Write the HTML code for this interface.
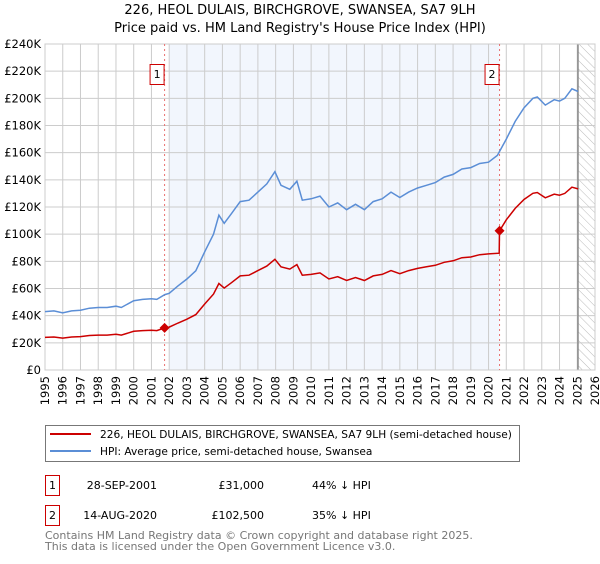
<!DOCTYPE html>
<html><head><meta charset="utf-8"><style>
body{margin:0;background:#fff;font-family:"DejaVu Sans","Liberation Sans",sans-serif;}
svg text{font-family:"DejaVu Sans","Liberation Sans",sans-serif;}
</style></head><body>
<svg id="chart" width="600" height="560" viewBox="0 0 600 560" xmlns="http://www.w3.org/2000/svg">
<defs><pattern id="hatch" width="6" height="6" patternUnits="userSpaceOnUse" patternTransform="rotate(-45)"><line x1="0" y1="0" x2="0" y2="6" stroke="#bbb" stroke-width="1"/></pattern></defs>
<text x="300" y="14" text-anchor="middle" font-size="13" fill="#000">226, HEOL DULAIS, BIRCHGROVE, SWANSEA, SA7 9LH</text>
<text x="300" y="32" text-anchor="middle" font-size="13" fill="#000">Price paid vs. HM Land Registry's House Price Index (HPI)</text>
<g id="bg"></g><g id="grid"></g><g id="series"></g><g id="axes"></g>
<rect x="45.5" y="425.5" width="474" height="36" fill="#fff" stroke="#777"/>
<line x1="50" y1="434" x2="91" y2="434" stroke="#cc0000" stroke-width="2"/>
<text x="100" y="438" font-size="10.6">226, HEOL DULAIS, BIRCHGROVE, SWANSEA, SA7 9LH (semi-detached house)</text>
<line x1="50" y1="451" x2="91" y2="451" stroke="#5b8ed6" stroke-width="2"/>
<text x="100" y="455" font-size="10.6">HPI: Average price, semi-detached house, Swansea</text>
<rect x="45.5" y="475.5" width="14" height="20" fill="#fff" stroke="#cc0000"/>
<text x="52.5" y="489" text-anchor="middle" font-size="11">1</text>
<text x="157" y="489" text-anchor="end" font-size="11">28-SEP-2001</text>
<text x="264" y="489" text-anchor="end" font-size="11">£31,000</text>
<text x="312" y="489" font-size="11">44% ↓ HPI</text>
<rect x="45.5" y="505.5" width="14" height="20" fill="#fff" stroke="#cc0000"/>
<text x="52.5" y="519" text-anchor="middle" font-size="11">2</text>
<text x="157" y="519" text-anchor="end" font-size="11">14-AUG-2020</text>
<text x="264" y="519" text-anchor="end" font-size="11">£102,500</text>
<text x="312" y="519" font-size="11">35% ↓ HPI</text>
<text x="45" y="539" font-size="11" fill="#777">Contains HM Land Registry data © Crown copyright and database right 2025.</text>
<text x="45" y="550" font-size="11" fill="#777">This data is licensed under the Open Government Licence v3.0.</text>
</svg>
<script>
const hpiYears=[1995,1995.5,1996,1996.5,1997,1997.5,1998,1998.5,1999,1999.3,2000,2000.5,2001,2001.3,2001.75,2002,2002.5,2003,2003.5,2004,2004.5,2004.8,2005.1,2005.5,2006,2006.5,2007,2007.5,2007.96,2008.3,2008.8,2009.2,2009.5,2010,2010.5,2011,2011.5,2012,2012.5,2013,2013.5,2014,2014.5,2015,2015.5,2016,2016.5,2017,2017.5,2018,2018.5,2019,2019.5,2020,2020.5,2021,2021.5,2022,2022.5,2022.75,2023.2,2023.7,2024,2024.3,2024.7,2025.05];
const hpiValues=[43,43.5,42,43.5,44,45.5,46,46,47,46,51,52,52.5,52,55.5,56.5,62,67,73,87,100,114,108,115,124,125,131,137,146,136,133,139,125,126,128,120,123,118,122,118,124,126,131,127,131,134,136,138,142,144,148,149,152,153,158,170,183,193,200,201,195,199,198,200,207,205];
const propYears=[1995,1995.5,1996,1996.5,1997,1997.5,1998,1998.5,1999,1999.3,2000,2000.5,2001,2001.3,2001.75,2002,2002.5,2003,2003.5,2004,2004.5,2004.8,2005.1,2005.5,2006,2006.5,2007,2007.5,2007.96,2008.3,2008.8,2009.2,2009.5,2010,2010.5,2011,2011.5,2012,2012.5,2013,2013.5,2014,2014.5,2015,2015.5,2016,2016.5,2017,2017.5,2018,2018.5,2019,2019.5,2020,2020.6,2020.62,2021,2021.5,2022,2022.5,2022.75,2023.2,2023.7,2024,2024.3,2024.7,2025.05];
const propValues=[24,24.3,23.5,24.3,24.6,25.4,25.7,25.7,26.3,25.7,28.5,29,29.3,29,31,31.6,34.6,37.4,40.8,48.6,55.9,63.7,60.3,64.2,69.3,69.8,73.2,76.5,81.5,76,74.3,77.6,69.8,70.4,71.5,67,68.7,65.9,68.1,65.9,69.3,70.4,73.2,70.9,73.2,74.8,76,77.1,79.3,80.4,82.7,83.2,84.9,85.5,86,102.5,110.6,119,125.5,130.1,130.7,126.8,129.4,128.7,130,134.6,133.3];
const saleYears=[2001.74,2020.62];
const saleValues=[31,102.5];
const saleLabels=["1","2"];
const yTicks=[0,20,40,60,80,100,120,140,160,180,200,220,240];
const xTicks=[1995,1996,1997,1998,1999,2000,2001,2002,2003,2004,2005,2006,2007,2008,2009,2010,2011,2012,2013,2014,2015,2016,2017,2018,2019,2020,2021,2022,2023,2024,2025,2026];
const X0=45,X1=595,Y0=370,Y1=44;
const xs=y=>X0+(y-1995)/(2026-1995)*(X1-X0);
const ys=v=>Y0-v/240*(Y0-Y1);
const NS="http://www.w3.org/2000/svg";
function mk(tag,attrs,parent){const e=document.createElementNS(NS,tag);for(const k in attrs)e.setAttribute(k,attrs[k]);parent.appendChild(e);return e;}
const bg=document.getElementById('bg'),grid=document.getElementById('grid'),ser=document.getElementById('series'),ax=document.getElementById('axes');
let r=mk('rect',{x:xs(2002),y:Y1,width:xs(saleYears[1])-xs(2002),height:Y0-Y1,fill:'#f2f6fd'},bg);


r=mk('rect',{x:xs(2025.04),y:Y1,width:X1-xs(2025.04),height:Y0-Y1,fill:'url(#hatch)'},bg);


yTicks.forEach(t=>{
 const l=mk('line',{x1:X0,x2:X1,y1:ys(t),y2:ys(t),stroke:'#ccc','stroke-width':1},grid);
 
 
 const tx=mk('text',{x:X0-4,y:ys(t)+4,'text-anchor':'end','font-size':'11.5'},ax);
 tx.textContent=t===0?'£0':'£'+t+'K';
 
 
});
xTicks.forEach(t=>{
 const l=mk('line',{y1:Y1,y2:Y0,x1:xs(t),x2:xs(t),stroke:'#ccc','stroke-width':1},grid);
 
 
 const tx=mk('text',{x:0,y:0,'text-anchor':'end','font-size':'11.5',transform:`translate(${xs(t)+4},${Y0+6}) rotate(-90)`},ax);
 tx.textContent=t;
 
 
});
let fl=mk('line',{x1:xs(2025.04),x2:xs(2025.04),y1:Y1,y2:Y0,stroke:'#888','stroke-width':1.5},grid);


let bx=mk('rect',{x:X0,y:Y1,width:X1-X0,height:Y0-Y1,fill:'none',stroke:'#ccc'},grid);


saleYears.forEach((s,i)=>{
 const l=mk('line',{x1:xs(s),x2:xs(s),y1:Y1,y2:Y0,stroke:'#e87070','stroke-dasharray':'2,3','stroke-width':1},ser);
 
 
 const b=mk('rect',{x:xs(s)-14.5,y:64.5,width:14,height:20,fill:'#fff',stroke:'#cc0000'},ser);
 
 
 const t=mk('text',{x:xs(s)-7.5,y:78,'text-anchor':'middle','font-size':'11'},ser);
 t.textContent=saleLabels[i];
 
 
});
let p=mk('path',{d:hpiYears.map((y,i)=>(i?'L':'M')+xs(y).toFixed(1)+','+ys(hpiValues[i]).toFixed(1)).join(''),fill:'none',stroke:'#5b8ed6','stroke-width':1.5},ser);


p=mk('path',{d:propYears.map((y,i)=>(i?'L':'M')+xs(y).toFixed(1)+','+ys(propValues[i]).toFixed(1)).join(''),fill:'none',stroke:'#cc0000','stroke-width':1.5},ser);


saleYears.forEach((s,i)=>{
 const d=mk('path',{d:`M${xs(s)},${ys(saleValues[i])-5}l5,5l-5,5l-5,-5z`,fill:'#cc0000'},ser);
 
 
});
</script>
</body></html>
